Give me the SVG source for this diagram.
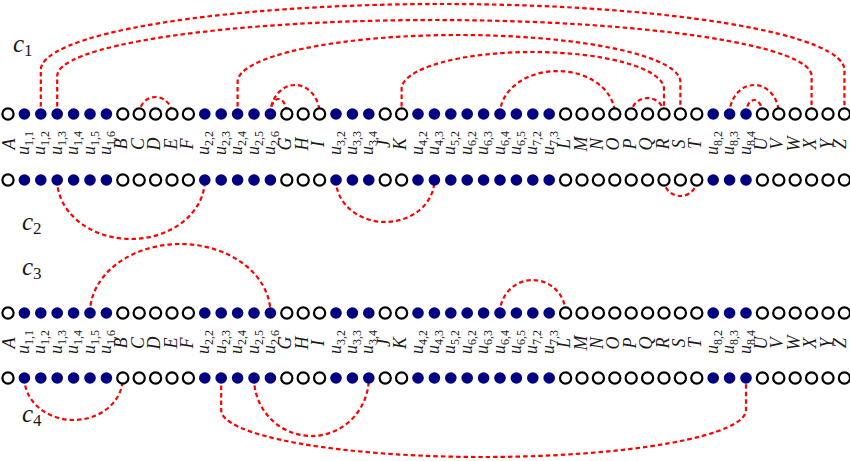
<svg xmlns="http://www.w3.org/2000/svg" xmlns:xlink="http://www.w3.org/1999/xlink" width="850" height="461" viewBox="0 0 850 461">
<style>
.f{fill:#000080}
.h{fill:#fff;stroke:#000;stroke-width:2.2}
.e{fill:none;stroke:#f00;stroke-width:2.2;stroke-dasharray:4.5 3}
.lb{font-family:"Liberation Serif",serif;font-style:italic;font-size:18px;text-anchor:middle;fill:#1a1a1a}
.s{font-size:12px;font-style:normal}
.cl{font-family:"Liberation Serif",serif;font-style:italic;font-size:25px;fill:#1a1a1a}
.cs{font-size:17px;font-style:normal}
</style>
<defs>
<circle id="F" r="5.8" class="f"/>
<circle id="H" r="5.6" class="h"/>
</defs>
<rect width="850" height="461" fill="#fff"/>
<g id="connectors">
<path class="e" d="M40.8,114 V70 A401.8,66 0 0 1 844.4,70 V114"/>
<path class="e" d="M57.2,114 V76 A377.2,56 0 0 1 811.6,76 V114"/>
<path class="e" d="M237.6,114 V82 A221.4,47 0 0 1 680.4,82 V114"/>
<path class="e" d="M401.6,114 V89 A131.2,37 0 0 1 664,89 V114"/>
<path class="e" d="M139.2,114 A16.4,17 0 0 1 172,114"/>
<path class="e" d="M270.4,114 A24.6,29 0 0 1 319.6,114"/>
<path class="e" d="M270.4,114 A8.2,15 0 0 1 286.8,114"/>
<path class="e" d="M500,114 A57.4,43 0 0 1 614.8,114"/>
<path class="e" d="M631.2,114 A16.4,16 0 0 1 664,114"/>
<path class="e" d="M729.6,114 A24.6,29 0 0 1 778.8,114"/>
<path class="e" d="M746,114 A8.2,14 0 0 1 762.4,114"/>
<path class="e" d="M57.2,180 A73.8,59 0 0 0 204.8,180"/>
<path class="e" d="M336,180 A49.2,42 0 0 0 434.4,180"/>
<path class="e" d="M664,180 A16.4,16 0 0 0 696.8,180"/>
<path class="e" d="M90,313 A90.2,69 0 0 1 270.4,313"/>
<path class="e" d="M500,313 A32.8,33 0 0 1 565.6,313"/>
<path class="e" d="M24.4,378 A49.2,42 0 0 0 122.8,378"/>
<path class="e" d="M254,378 A57.4,58 0 0 0 368.8,378"/>
<path class="e" d="M221.2,378 V410 A262.4,47 0 0 0 746,410 V378"/>
</g>
<g id="row1">
<g id="n1-A"><use href="#H" x="8" y="114"/></g>
<g id="n1-u11"><use href="#F" x="24.4" y="114"/></g>
<g id="n1-u12"><use href="#F" x="40.8" y="114"/></g>
<g id="n1-u13"><use href="#F" x="57.2" y="114"/></g>
<g id="n1-u14"><use href="#F" x="73.6" y="114"/></g>
<g id="n1-u15"><use href="#F" x="90" y="114"/></g>
<g id="n1-u16"><use href="#F" x="106.4" y="114"/></g>
<g id="n1-B"><use href="#H" x="122.8" y="114"/></g>
<g id="n1-C"><use href="#H" x="139.2" y="114"/></g>
<g id="n1-D"><use href="#H" x="155.6" y="114"/></g>
<g id="n1-E"><use href="#H" x="172" y="114"/></g>
<g id="n1-F"><use href="#H" x="188.4" y="114"/></g>
<g id="n1-u22"><use href="#F" x="204.8" y="114"/></g>
<g id="n1-u23"><use href="#F" x="221.2" y="114"/></g>
<g id="n1-u24"><use href="#F" x="237.6" y="114"/></g>
<g id="n1-u25"><use href="#F" x="254" y="114"/></g>
<g id="n1-u26"><use href="#F" x="270.4" y="114"/></g>
<g id="n1-G"><use href="#H" x="286.8" y="114"/></g>
<g id="n1-H"><use href="#H" x="303.2" y="114"/></g>
<g id="n1-I"><use href="#H" x="319.6" y="114"/></g>
<g id="n1-u32"><use href="#F" x="336" y="114"/></g>
<g id="n1-u33"><use href="#F" x="352.4" y="114"/></g>
<g id="n1-u34"><use href="#F" x="368.8" y="114"/></g>
<g id="n1-J"><use href="#H" x="385.2" y="114"/></g>
<g id="n1-K"><use href="#H" x="401.6" y="114"/></g>
<g id="n1-u42"><use href="#F" x="418" y="114"/></g>
<g id="n1-u43"><use href="#F" x="434.4" y="114"/></g>
<g id="n1-u52"><use href="#F" x="450.8" y="114"/></g>
<g id="n1-u62"><use href="#F" x="467.2" y="114"/></g>
<g id="n1-u63"><use href="#F" x="483.6" y="114"/></g>
<g id="n1-u64"><use href="#F" x="500" y="114"/></g>
<g id="n1-u65"><use href="#F" x="516.4" y="114"/></g>
<g id="n1-u72"><use href="#F" x="532.8" y="114"/></g>
<g id="n1-u73"><use href="#F" x="549.2" y="114"/></g>
<g id="n1-L"><use href="#H" x="565.6" y="114"/></g>
<g id="n1-M"><use href="#H" x="582" y="114"/></g>
<g id="n1-N"><use href="#H" x="598.4" y="114"/></g>
<g id="n1-O"><use href="#H" x="614.8" y="114"/></g>
<g id="n1-P"><use href="#H" x="631.2" y="114"/></g>
<g id="n1-Q"><use href="#H" x="647.6" y="114"/></g>
<g id="n1-R"><use href="#H" x="664" y="114"/></g>
<g id="n1-S"><use href="#H" x="680.4" y="114"/></g>
<g id="n1-T"><use href="#H" x="696.8" y="114"/></g>
<g id="n1-u82"><use href="#F" x="713.2" y="114"/></g>
<g id="n1-u83"><use href="#F" x="729.6" y="114"/></g>
<g id="n1-u84"><use href="#F" x="746" y="114"/></g>
<g id="n1-U"><use href="#H" x="762.4" y="114"/></g>
<g id="n1-V"><use href="#H" x="778.8" y="114"/></g>
<g id="n1-W"><use href="#H" x="795.2" y="114"/></g>
<g id="n1-X"><use href="#H" x="811.6" y="114"/></g>
<g id="n1-Y"><use href="#H" x="828" y="114"/></g>
<g id="n1-Z"><use href="#H" x="844.4" y="114"/></g>
</g>
<g id="row2">
<g id="n2-A"><use href="#H" x="8" y="180"/></g>
<g id="n2-u11"><use href="#F" x="24.4" y="180"/></g>
<g id="n2-u12"><use href="#F" x="40.8" y="180"/></g>
<g id="n2-u13"><use href="#F" x="57.2" y="180"/></g>
<g id="n2-u14"><use href="#F" x="73.6" y="180"/></g>
<g id="n2-u15"><use href="#F" x="90" y="180"/></g>
<g id="n2-u16"><use href="#F" x="106.4" y="180"/></g>
<g id="n2-B"><use href="#H" x="122.8" y="180"/></g>
<g id="n2-C"><use href="#H" x="139.2" y="180"/></g>
<g id="n2-D"><use href="#H" x="155.6" y="180"/></g>
<g id="n2-E"><use href="#H" x="172" y="180"/></g>
<g id="n2-F"><use href="#H" x="188.4" y="180"/></g>
<g id="n2-u22"><use href="#F" x="204.8" y="180"/></g>
<g id="n2-u23"><use href="#F" x="221.2" y="180"/></g>
<g id="n2-u24"><use href="#F" x="237.6" y="180"/></g>
<g id="n2-u25"><use href="#F" x="254" y="180"/></g>
<g id="n2-u26"><use href="#F" x="270.4" y="180"/></g>
<g id="n2-G"><use href="#H" x="286.8" y="180"/></g>
<g id="n2-H"><use href="#H" x="303.2" y="180"/></g>
<g id="n2-I"><use href="#H" x="319.6" y="180"/></g>
<g id="n2-u32"><use href="#F" x="336" y="180"/></g>
<g id="n2-u33"><use href="#F" x="352.4" y="180"/></g>
<g id="n2-u34"><use href="#F" x="368.8" y="180"/></g>
<g id="n2-J"><use href="#H" x="385.2" y="180"/></g>
<g id="n2-K"><use href="#H" x="401.6" y="180"/></g>
<g id="n2-u42"><use href="#F" x="418" y="180"/></g>
<g id="n2-u43"><use href="#F" x="434.4" y="180"/></g>
<g id="n2-u52"><use href="#F" x="450.8" y="180"/></g>
<g id="n2-u62"><use href="#F" x="467.2" y="180"/></g>
<g id="n2-u63"><use href="#F" x="483.6" y="180"/></g>
<g id="n2-u64"><use href="#F" x="500" y="180"/></g>
<g id="n2-u65"><use href="#F" x="516.4" y="180"/></g>
<g id="n2-u72"><use href="#F" x="532.8" y="180"/></g>
<g id="n2-u73"><use href="#F" x="549.2" y="180"/></g>
<g id="n2-L"><use href="#H" x="565.6" y="180"/></g>
<g id="n2-M"><use href="#H" x="582" y="180"/></g>
<g id="n2-N"><use href="#H" x="598.4" y="180"/></g>
<g id="n2-O"><use href="#H" x="614.8" y="180"/></g>
<g id="n2-P"><use href="#H" x="631.2" y="180"/></g>
<g id="n2-Q"><use href="#H" x="647.6" y="180"/></g>
<g id="n2-R"><use href="#H" x="664" y="180"/></g>
<g id="n2-S"><use href="#H" x="680.4" y="180"/></g>
<g id="n2-T"><use href="#H" x="696.8" y="180"/></g>
<g id="n2-u82"><use href="#F" x="713.2" y="180"/></g>
<g id="n2-u83"><use href="#F" x="729.6" y="180"/></g>
<g id="n2-u84"><use href="#F" x="746" y="180"/></g>
<g id="n2-U"><use href="#H" x="762.4" y="180"/></g>
<g id="n2-V"><use href="#H" x="778.8" y="180"/></g>
<g id="n2-W"><use href="#H" x="795.2" y="180"/></g>
<g id="n2-X"><use href="#H" x="811.6" y="180"/></g>
<g id="n2-Y"><use href="#H" x="828" y="180"/></g>
<g id="n2-Z"><use href="#H" x="844.4" y="180"/></g>
</g>
<g id="row3">
<g id="n3-A"><use href="#H" x="8" y="313"/></g>
<g id="n3-u11"><use href="#F" x="24.4" y="313"/></g>
<g id="n3-u12"><use href="#F" x="40.8" y="313"/></g>
<g id="n3-u13"><use href="#F" x="57.2" y="313"/></g>
<g id="n3-u14"><use href="#F" x="73.6" y="313"/></g>
<g id="n3-u15"><use href="#F" x="90" y="313"/></g>
<g id="n3-u16"><use href="#F" x="106.4" y="313"/></g>
<g id="n3-B"><use href="#H" x="122.8" y="313"/></g>
<g id="n3-C"><use href="#H" x="139.2" y="313"/></g>
<g id="n3-D"><use href="#H" x="155.6" y="313"/></g>
<g id="n3-E"><use href="#H" x="172" y="313"/></g>
<g id="n3-F"><use href="#H" x="188.4" y="313"/></g>
<g id="n3-u22"><use href="#F" x="204.8" y="313"/></g>
<g id="n3-u23"><use href="#F" x="221.2" y="313"/></g>
<g id="n3-u24"><use href="#F" x="237.6" y="313"/></g>
<g id="n3-u25"><use href="#F" x="254" y="313"/></g>
<g id="n3-u26"><use href="#F" x="270.4" y="313"/></g>
<g id="n3-G"><use href="#H" x="286.8" y="313"/></g>
<g id="n3-H"><use href="#H" x="303.2" y="313"/></g>
<g id="n3-I"><use href="#H" x="319.6" y="313"/></g>
<g id="n3-u32"><use href="#F" x="336" y="313"/></g>
<g id="n3-u33"><use href="#F" x="352.4" y="313"/></g>
<g id="n3-u34"><use href="#F" x="368.8" y="313"/></g>
<g id="n3-J"><use href="#H" x="385.2" y="313"/></g>
<g id="n3-K"><use href="#H" x="401.6" y="313"/></g>
<g id="n3-u42"><use href="#F" x="418" y="313"/></g>
<g id="n3-u43"><use href="#F" x="434.4" y="313"/></g>
<g id="n3-u52"><use href="#F" x="450.8" y="313"/></g>
<g id="n3-u62"><use href="#F" x="467.2" y="313"/></g>
<g id="n3-u63"><use href="#F" x="483.6" y="313"/></g>
<g id="n3-u64"><use href="#F" x="500" y="313"/></g>
<g id="n3-u65"><use href="#F" x="516.4" y="313"/></g>
<g id="n3-u72"><use href="#F" x="532.8" y="313"/></g>
<g id="n3-u73"><use href="#F" x="549.2" y="313"/></g>
<g id="n3-L"><use href="#H" x="565.6" y="313"/></g>
<g id="n3-M"><use href="#H" x="582" y="313"/></g>
<g id="n3-N"><use href="#H" x="598.4" y="313"/></g>
<g id="n3-O"><use href="#H" x="614.8" y="313"/></g>
<g id="n3-P"><use href="#H" x="631.2" y="313"/></g>
<g id="n3-Q"><use href="#H" x="647.6" y="313"/></g>
<g id="n3-R"><use href="#H" x="664" y="313"/></g>
<g id="n3-S"><use href="#H" x="680.4" y="313"/></g>
<g id="n3-T"><use href="#H" x="696.8" y="313"/></g>
<g id="n3-u82"><use href="#F" x="713.2" y="313"/></g>
<g id="n3-u83"><use href="#F" x="729.6" y="313"/></g>
<g id="n3-u84"><use href="#F" x="746" y="313"/></g>
<g id="n3-U"><use href="#H" x="762.4" y="313"/></g>
<g id="n3-V"><use href="#H" x="778.8" y="313"/></g>
<g id="n3-W"><use href="#H" x="795.2" y="313"/></g>
<g id="n3-X"><use href="#H" x="811.6" y="313"/></g>
<g id="n3-Y"><use href="#H" x="828" y="313"/></g>
<g id="n3-Z"><use href="#H" x="844.4" y="313"/></g>
</g>
<g id="row4">
<g id="n4-A"><use href="#H" x="8" y="378"/></g>
<g id="n4-u11"><use href="#F" x="24.4" y="378"/></g>
<g id="n4-u12"><use href="#F" x="40.8" y="378"/></g>
<g id="n4-u13"><use href="#F" x="57.2" y="378"/></g>
<g id="n4-u14"><use href="#F" x="73.6" y="378"/></g>
<g id="n4-u15"><use href="#F" x="90" y="378"/></g>
<g id="n4-u16"><use href="#F" x="106.4" y="378"/></g>
<g id="n4-B"><use href="#H" x="122.8" y="378"/></g>
<g id="n4-C"><use href="#H" x="139.2" y="378"/></g>
<g id="n4-D"><use href="#H" x="155.6" y="378"/></g>
<g id="n4-E"><use href="#H" x="172" y="378"/></g>
<g id="n4-F"><use href="#H" x="188.4" y="378"/></g>
<g id="n4-u22"><use href="#F" x="204.8" y="378"/></g>
<g id="n4-u23"><use href="#F" x="221.2" y="378"/></g>
<g id="n4-u24"><use href="#F" x="237.6" y="378"/></g>
<g id="n4-u25"><use href="#F" x="254" y="378"/></g>
<g id="n4-u26"><use href="#F" x="270.4" y="378"/></g>
<g id="n4-G"><use href="#H" x="286.8" y="378"/></g>
<g id="n4-H"><use href="#H" x="303.2" y="378"/></g>
<g id="n4-I"><use href="#H" x="319.6" y="378"/></g>
<g id="n4-u32"><use href="#F" x="336" y="378"/></g>
<g id="n4-u33"><use href="#F" x="352.4" y="378"/></g>
<g id="n4-u34"><use href="#F" x="368.8" y="378"/></g>
<g id="n4-J"><use href="#H" x="385.2" y="378"/></g>
<g id="n4-K"><use href="#H" x="401.6" y="378"/></g>
<g id="n4-u42"><use href="#F" x="418" y="378"/></g>
<g id="n4-u43"><use href="#F" x="434.4" y="378"/></g>
<g id="n4-u52"><use href="#F" x="450.8" y="378"/></g>
<g id="n4-u62"><use href="#F" x="467.2" y="378"/></g>
<g id="n4-u63"><use href="#F" x="483.6" y="378"/></g>
<g id="n4-u64"><use href="#F" x="500" y="378"/></g>
<g id="n4-u65"><use href="#F" x="516.4" y="378"/></g>
<g id="n4-u72"><use href="#F" x="532.8" y="378"/></g>
<g id="n4-u73"><use href="#F" x="549.2" y="378"/></g>
<g id="n4-L"><use href="#H" x="565.6" y="378"/></g>
<g id="n4-M"><use href="#H" x="582" y="378"/></g>
<g id="n4-N"><use href="#H" x="598.4" y="378"/></g>
<g id="n4-O"><use href="#H" x="614.8" y="378"/></g>
<g id="n4-P"><use href="#H" x="631.2" y="378"/></g>
<g id="n4-Q"><use href="#H" x="647.6" y="378"/></g>
<g id="n4-R"><use href="#H" x="664" y="378"/></g>
<g id="n4-S"><use href="#H" x="680.4" y="378"/></g>
<g id="n4-T"><use href="#H" x="696.8" y="378"/></g>
<g id="n4-u82"><use href="#F" x="713.2" y="378"/></g>
<g id="n4-u83"><use href="#F" x="729.6" y="378"/></g>
<g id="n4-u84"><use href="#F" x="746" y="378"/></g>
<g id="n4-U"><use href="#H" x="762.4" y="378"/></g>
<g id="n4-V"><use href="#H" x="778.8" y="378"/></g>
<g id="n4-W"><use href="#H" x="795.2" y="378"/></g>
<g id="n4-X"><use href="#H" x="811.6" y="378"/></g>
<g id="n4-Y"><use href="#H" x="828" y="378"/></g>
<g id="n4-Z"><use href="#H" x="844.4" y="378"/></g>
</g>
<g id="labels-top" class="lb">
<text transform="translate(15,144) rotate(-90)">A</text>
<text transform="translate(29,143) rotate(-90)">u<tspan class="s" dy="4">1,1</tspan></text>
<text transform="translate(45.4,143) rotate(-90)">u<tspan class="s" dy="4">1,2</tspan></text>
<text transform="translate(61.8,143) rotate(-90)">u<tspan class="s" dy="4">1,3</tspan></text>
<text transform="translate(78.2,143) rotate(-90)">u<tspan class="s" dy="4">1,4</tspan></text>
<text transform="translate(94.6,143) rotate(-90)">u<tspan class="s" dy="4">1,5</tspan></text>
<text transform="translate(111,143) rotate(-90)">u<tspan class="s" dy="4">1,6</tspan></text>
<text transform="translate(127.4,144) rotate(-90)">B</text>
<text transform="translate(143.8,144) rotate(-90)">C</text>
<text transform="translate(160.2,144) rotate(-90)">D</text>
<text transform="translate(176.6,144) rotate(-90)">E</text>
<text transform="translate(193,144) rotate(-90)">F</text>
<text transform="translate(209.4,143) rotate(-90)">u<tspan class="s" dy="4">2,2</tspan></text>
<text transform="translate(225.8,143) rotate(-90)">u<tspan class="s" dy="4">2,3</tspan></text>
<text transform="translate(242.2,143) rotate(-90)">u<tspan class="s" dy="4">2,4</tspan></text>
<text transform="translate(258.6,143) rotate(-90)">u<tspan class="s" dy="4">2,5</tspan></text>
<text transform="translate(275,143) rotate(-90)">u<tspan class="s" dy="4">2,6</tspan></text>
<text transform="translate(291.4,144) rotate(-90)">G</text>
<text transform="translate(307.8,144) rotate(-90)">H</text>
<text transform="translate(324.2,144) rotate(-90)">I</text>
<text transform="translate(340.6,143) rotate(-90)">u<tspan class="s" dy="4">3,2</tspan></text>
<text transform="translate(357,143) rotate(-90)">u<tspan class="s" dy="4">3,3</tspan></text>
<text transform="translate(373.4,143) rotate(-90)">u<tspan class="s" dy="4">3,4</tspan></text>
<text transform="translate(389.8,144) rotate(-90)">J</text>
<text transform="translate(406.2,144) rotate(-90)">K</text>
<text transform="translate(422.6,143) rotate(-90)">u<tspan class="s" dy="4">4,2</tspan></text>
<text transform="translate(439,143) rotate(-90)">u<tspan class="s" dy="4">4,3</tspan></text>
<text transform="translate(455.4,143) rotate(-90)">u<tspan class="s" dy="4">5,2</tspan></text>
<text transform="translate(471.8,143) rotate(-90)">u<tspan class="s" dy="4">6,2</tspan></text>
<text transform="translate(488.2,143) rotate(-90)">u<tspan class="s" dy="4">6,3</tspan></text>
<text transform="translate(504.6,143) rotate(-90)">u<tspan class="s" dy="4">6,4</tspan></text>
<text transform="translate(521,143) rotate(-90)">u<tspan class="s" dy="4">6,5</tspan></text>
<text transform="translate(537.4,143) rotate(-90)">u<tspan class="s" dy="4">7,2</tspan></text>
<text transform="translate(553.8,143) rotate(-90)">u<tspan class="s" dy="4">7,3</tspan></text>
<text transform="translate(570.2,144) rotate(-90)">L</text>
<text transform="translate(586.6,144) rotate(-90)">M</text>
<text transform="translate(603,144) rotate(-90)">N</text>
<text transform="translate(619.4,144) rotate(-90)">O</text>
<text transform="translate(635.8,144) rotate(-90)">P</text>
<text transform="translate(652.2,144) rotate(-90)">Q</text>
<text transform="translate(668.6,144) rotate(-90)">R</text>
<text transform="translate(685,144) rotate(-90)">S</text>
<text transform="translate(701.4,144) rotate(-90)">T</text>
<text transform="translate(717.8,143) rotate(-90)">u<tspan class="s" dy="4">8,2</tspan></text>
<text transform="translate(734.2,143) rotate(-90)">u<tspan class="s" dy="4">8,3</tspan></text>
<text transform="translate(750.6,143) rotate(-90)">u<tspan class="s" dy="4">8,4</tspan></text>
<text transform="translate(767,144) rotate(-90)">U</text>
<text transform="translate(783.4,144) rotate(-90)">V</text>
<text transform="translate(799.8,144) rotate(-90)">W</text>
<text transform="translate(816.2,144) rotate(-90)">X</text>
<text transform="translate(832.6,144) rotate(-90)">Y</text>
<text transform="translate(846,144) rotate(-90)">Z</text>
</g>
<g id="labels-bottom" class="lb">
<text transform="translate(15,343) rotate(-90)">A</text>
<text transform="translate(29,342) rotate(-90)">u<tspan class="s" dy="4">1,1</tspan></text>
<text transform="translate(45.4,342) rotate(-90)">u<tspan class="s" dy="4">1,2</tspan></text>
<text transform="translate(61.8,342) rotate(-90)">u<tspan class="s" dy="4">1,3</tspan></text>
<text transform="translate(78.2,342) rotate(-90)">u<tspan class="s" dy="4">1,4</tspan></text>
<text transform="translate(94.6,342) rotate(-90)">u<tspan class="s" dy="4">1,5</tspan></text>
<text transform="translate(111,342) rotate(-90)">u<tspan class="s" dy="4">1,6</tspan></text>
<text transform="translate(127.4,343) rotate(-90)">B</text>
<text transform="translate(143.8,343) rotate(-90)">C</text>
<text transform="translate(160.2,343) rotate(-90)">D</text>
<text transform="translate(176.6,343) rotate(-90)">E</text>
<text transform="translate(193,343) rotate(-90)">F</text>
<text transform="translate(209.4,342) rotate(-90)">u<tspan class="s" dy="4">2,2</tspan></text>
<text transform="translate(225.8,342) rotate(-90)">u<tspan class="s" dy="4">2,3</tspan></text>
<text transform="translate(242.2,342) rotate(-90)">u<tspan class="s" dy="4">2,4</tspan></text>
<text transform="translate(258.6,342) rotate(-90)">u<tspan class="s" dy="4">2,5</tspan></text>
<text transform="translate(275,342) rotate(-90)">u<tspan class="s" dy="4">2,6</tspan></text>
<text transform="translate(291.4,343) rotate(-90)">G</text>
<text transform="translate(307.8,343) rotate(-90)">H</text>
<text transform="translate(324.2,343) rotate(-90)">I</text>
<text transform="translate(340.6,342) rotate(-90)">u<tspan class="s" dy="4">3,2</tspan></text>
<text transform="translate(357,342) rotate(-90)">u<tspan class="s" dy="4">3,3</tspan></text>
<text transform="translate(373.4,342) rotate(-90)">u<tspan class="s" dy="4">3,4</tspan></text>
<text transform="translate(389.8,343) rotate(-90)">J</text>
<text transform="translate(406.2,343) rotate(-90)">K</text>
<text transform="translate(422.6,342) rotate(-90)">u<tspan class="s" dy="4">4,2</tspan></text>
<text transform="translate(439,342) rotate(-90)">u<tspan class="s" dy="4">4,3</tspan></text>
<text transform="translate(455.4,342) rotate(-90)">u<tspan class="s" dy="4">5,2</tspan></text>
<text transform="translate(471.8,342) rotate(-90)">u<tspan class="s" dy="4">6,2</tspan></text>
<text transform="translate(488.2,342) rotate(-90)">u<tspan class="s" dy="4">6,3</tspan></text>
<text transform="translate(504.6,342) rotate(-90)">u<tspan class="s" dy="4">6,4</tspan></text>
<text transform="translate(521,342) rotate(-90)">u<tspan class="s" dy="4">6,5</tspan></text>
<text transform="translate(537.4,342) rotate(-90)">u<tspan class="s" dy="4">7,2</tspan></text>
<text transform="translate(553.8,342) rotate(-90)">u<tspan class="s" dy="4">7,3</tspan></text>
<text transform="translate(570.2,343) rotate(-90)">L</text>
<text transform="translate(586.6,343) rotate(-90)">M</text>
<text transform="translate(603,343) rotate(-90)">N</text>
<text transform="translate(619.4,343) rotate(-90)">O</text>
<text transform="translate(635.8,343) rotate(-90)">P</text>
<text transform="translate(652.2,343) rotate(-90)">Q</text>
<text transform="translate(668.6,343) rotate(-90)">R</text>
<text transform="translate(685,343) rotate(-90)">S</text>
<text transform="translate(701.4,343) rotate(-90)">T</text>
<text transform="translate(717.8,342) rotate(-90)">u<tspan class="s" dy="4">8,2</tspan></text>
<text transform="translate(734.2,342) rotate(-90)">u<tspan class="s" dy="4">8,3</tspan></text>
<text transform="translate(750.6,342) rotate(-90)">u<tspan class="s" dy="4">8,4</tspan></text>
<text transform="translate(767,343) rotate(-90)">U</text>
<text transform="translate(783.4,343) rotate(-90)">V</text>
<text transform="translate(799.8,343) rotate(-90)">W</text>
<text transform="translate(816.2,343) rotate(-90)">X</text>
<text transform="translate(832.6,343) rotate(-90)">Y</text>
<text transform="translate(846,343) rotate(-90)">Z</text>
</g>
<g id="config-labels" class="cl">
<text x="13" y="52">c<tspan class="cs" dy="4">1</tspan></text>
<text x="22" y="230">c<tspan class="cs" dy="4">2</tspan></text>
<text x="22" y="275">c<tspan class="cs" dy="4">3</tspan></text>
<text x="22" y="422">c<tspan class="cs" dy="4">4</tspan></text>
</g>
</svg>
